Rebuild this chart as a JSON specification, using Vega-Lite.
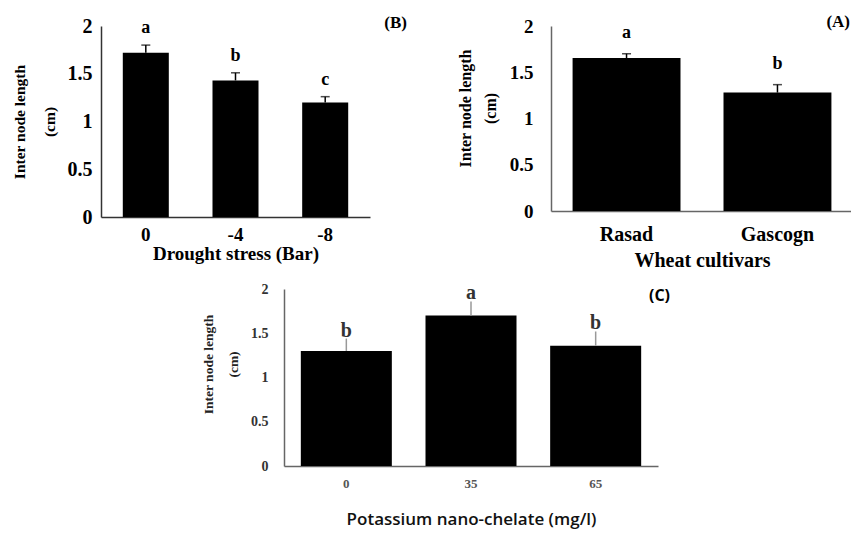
{
  "$schema": "https://vega.github.io/schema/vega-lite/v6.json",
  "padding": {"left": 12, "top": 13, "right": 0, "bottom": 5},
  "background": "white",
  "config": {"view": {"stroke": null}, "font": "Liberation Serif"},
  "center": true,
  "spacing": 12,
  "vconcat": [
    {
      "spacing": 50,
      "hconcat": [
        {
          "width": 269,
          "height": 191,
          "title": {"text": "(B)", "anchor": "end", "frame": "group", "orient": "top", "offset": -16, "dx": 37, "font": "Liberation Serif", "fontSize": 17, "fontWeight": "bold", "color": "black"},
          "data": {"values": [
            {"stress": "0", "mean": 1.72, "upper": 1.80, "letter": "a"},
            {"stress": "-4", "mean": 1.43, "upper": 1.51, "letter": "b"},
            {"stress": "-8", "mean": 1.20, "upper": 1.26, "letter": "c"}
          ]},
          "encoding": {
            "x": {"field": "stress", "type": "nominal", "sort": null,
              "scale": {"paddingInner": 0.487, "paddingOuter": 0.243},
              "axis": {"title": "Drought stress (Bar)", "labelAngle": 0, "ticks": false, "domainColor": "#333", "domainWidth": 1.5,
                "labelFont": "Liberation Serif", "labelFontSize": 19, "labelFontWeight": "bold", "labelColor": "black", "labelPadding": 8,
                "titleFont": "Liberation Serif", "titleFontSize": 19, "titleFontWeight": "bold", "titleColor": "black", "titlePadding": 0}}
          },
          "layer": [
            {"mark": {"type": "bar", "color": "black"},
             "encoding": {"y": {"field": "mean", "type": "quantitative", "scale": {"domain": [0, 2]},
               "axis": {"values": [0, 0.5, 1, 1.5, 2], "format": ".1~f", "title": ["Inter node length", "(cm)"], "grid": false, "ticks": false,
                 "domainColor": "#333", "domainWidth": 1.5, "labelFont": "Liberation Serif", "labelFontSize": 20, "labelFontWeight": "bold", "labelColor": "black", "labelPadding": 9,
                 "titleFont": "Liberation Serif", "titleFontSize": 15.5, "titleFontWeight": "bold", "titleColor": "black", "titleLineHeight": 30, "titlePadding": 10}}}},
            {"mark": {"type": "rule", "color": "black", "strokeWidth": 1.5},
             "encoding": {"y": {"field": "mean", "type": "quantitative"}, "y2": {"field": "upper"}}},
            {"mark": {"type": "tick", "color": "black", "thickness": 1.5, "size": 9},
             "encoding": {"y": {"field": "upper", "type": "quantitative"}}},
            {"mark": {"type": "text", "font": "Liberation Serif", "fontWeight": "bold", "fontSize": 18, "baseline": "bottom", "dy": -8, "color": "black"},
             "encoding": {"y": {"field": "upper", "type": "quantitative"}, "text": {"field": "letter"}}}
          ]
        },
        {
          "width": 302,
          "height": 185,
          "title": {"text": "(A)", "anchor": "end", "frame": "group", "orient": "top", "offset": -14, "dx": -3, "font": "Liberation Serif", "fontSize": 17, "fontWeight": "bold", "color": "black"},
          "data": {"values": [
            {"cultivar": "Rasad", "mean": 1.654, "upper": 1.70, "letter": "a"},
            {"cultivar": "Gascogn", "mean": 1.28, "upper": 1.366, "letter": "b"}
          ]},
          "encoding": {
            "x": {"field": "cultivar", "type": "nominal", "sort": null,
              "scale": {"paddingInner": 0.285, "paddingOuter": 0.143},
              "axis": {"title": "Wheat cultivars", "labelAngle": 0, "ticks": false, "domainColor": "#666", "domainWidth": 1.5,
                "labelFont": "Liberation Serif", "labelFontSize": 20, "labelFontWeight": "bold", "labelColor": "black", "labelPadding": 13,
                "titleFont": "Liberation Serif", "titleFontSize": 20, "titleFontWeight": "bold", "titleColor": "black", "titlePadding": 6}}
          },
          "layer": [
            {"mark": {"type": "bar", "color": "black"},
             "encoding": {"y": {"field": "mean", "type": "quantitative", "scale": {"domain": [0, 2]},
               "axis": {"values": [0, 0.5, 1, 1.5, 2], "format": ".1~f", "title": ["Inter node length", "(cm)"], "grid": false, "ticks": false,
                 "domainColor": "#666", "domainWidth": 1.5, "labelFont": "Liberation Serif", "labelFontSize": 19, "labelFontWeight": "bold", "labelColor": "black", "labelPadding": 18,
                 "titleFont": "Liberation Serif", "titleFontSize": 16, "titleFontWeight": "bold", "titleColor": "black", "titleLineHeight": 25, "titlePadding": 11, "titleY": 82}}}},
            {"mark": {"type": "rule", "color": "black", "strokeWidth": 1.5},
             "encoding": {"y": {"field": "mean", "type": "quantitative"}, "y2": {"field": "upper"}}},
            {"mark": {"type": "tick", "color": "black", "thickness": 1.5, "size": 9},
             "encoding": {"y": {"field": "upper", "type": "quantitative"}}},
            {"mark": {"type": "text", "font": "Liberation Serif", "fontWeight": "bold", "fontSize": 18, "baseline": "bottom", "dy": -12, "color": "black"},
             "encoding": {"y": {"field": "upper", "type": "quantitative"}, "text": {"field": "letter"}}}
          ]
        }
      ]
    },
    {
      "width": 374,
      "height": 177,
      "title": {"text": "(C)", "anchor": "end", "frame": "group", "orient": "top", "offset": -22, "dx": 12, "font": "Open Sans", "fontSize": 16, "fontWeight": "bold", "color": "black"},
      "data": {"values": [
        {"dose": "0", "mean": 1.30, "upper": 1.44, "letter": "b"},
        {"dose": "35", "mean": 1.70, "upper": 1.86, "letter": "a"},
        {"dose": "65", "mean": 1.36, "upper": 1.52, "letter": "b"}
      ]},
      "encoding": {
        "x": {"field": "dose", "type": "nominal", "sort": null,
          "scale": {"paddingInner": 0.27, "paddingOuter": 0.135},
          "axis": {"title": "Potassium nano-chelate (mg/l)", "labelAngle": 0, "ticks": false, "domainColor": "#666", "domainWidth": 1.5,
            "labelFont": "Liberation Serif", "labelFontSize": 13, "labelFontWeight": "bold", "labelColor": "#555", "labelPadding": 11,
            "titleFont": "Open Sans", "titleFontSize": 17, "titleFontWeight": 600, "titleColor": "#111", "titlePadding": 21}}
      },
      "layer": [
        {"mark": {"type": "bar", "color": "black"},
         "encoding": {"y": {"field": "mean", "type": "quantitative", "scale": {"domain": [0, 2]},
           "axis": {"values": [0, 0.5, 1, 1.5, 2], "format": ".1~f", "title": ["Inter node length", "(cm)"], "grid": false, "ticks": false,
             "domainColor": "#666", "domainWidth": 1.5, "labelFont": "Liberation Serif", "labelFontSize": 14, "labelFontWeight": "bold", "labelColor": "#333", "labelPadding": 16,
             "titleFont": "Liberation Serif", "titleFontSize": 13.5, "titleFontWeight": "bold", "titleColor": "#222", "titleLineHeight": 25, "titlePadding": 10, "titleY": 75}}}},
        {"mark": {"type": "rule", "color": "#999", "strokeWidth": 1.5},
         "encoding": {"y": {"field": "mean", "type": "quantitative"}, "y2": {"field": "upper"}}},
        {"mark": {"type": "text", "font": "Liberation Serif", "fontWeight": "bold", "fontSize": 20, "baseline": "bottom", "dy": 2, "color": "#333"},
         "encoding": {"y": {"field": "upper", "type": "quantitative"}, "text": {"field": "letter"}}}
      ]
    }
  ]
}
